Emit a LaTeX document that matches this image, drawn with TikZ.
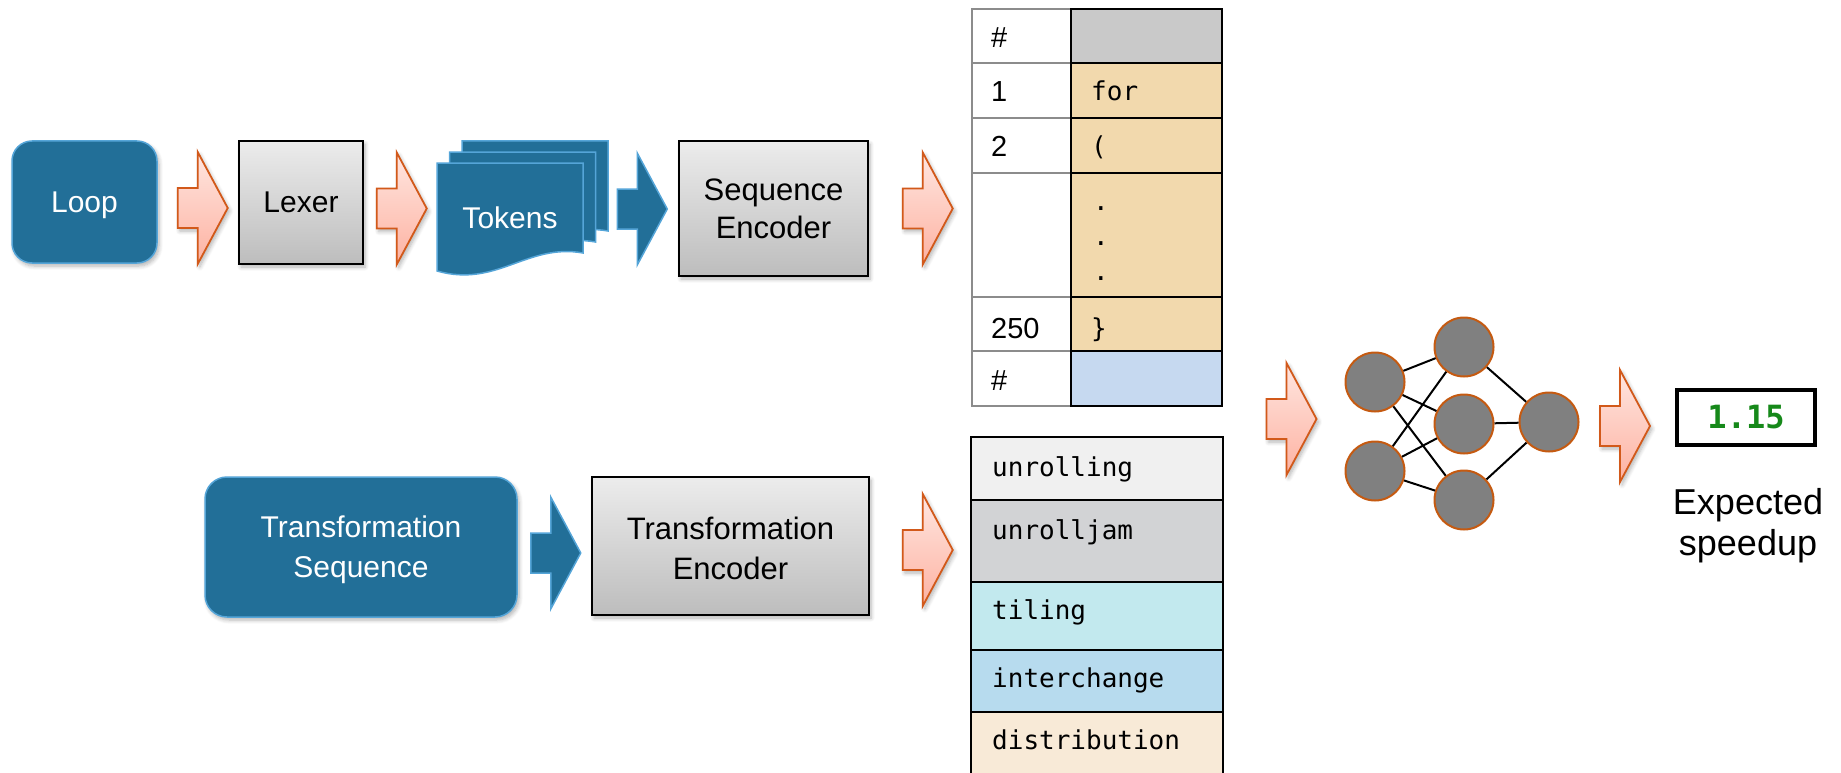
\documentclass[tikz,border=0pt]{standalone}
\usepackage{fontspec}
\setmainfont{Liberation Sans}
\newfontfamily\codefont{DejaVu Sans Mono}
\usetikzlibrary{calc,shadows.blur}

\definecolor{tealblue}{HTML}{226F98}
\definecolor{tealedge}{HTML}{55A5D8}
\definecolor{boxtop}{HTML}{ECECEC}
\definecolor{boxbot}{HTML}{BDBDBD}
\definecolor{pinktop}{HTML}{FFE6E0}
\definecolor{pinkbot}{HTML}{FDB2A2}
\definecolor{pinkedge}{HTML}{D2591A}
\definecolor{neurongray}{HTML}{808080}
\definecolor{neuronedge}{HTML}{C55A11}
\definecolor{cellgray}{HTML}{8C8C8C}
\definecolor{hdrgray}{HTML}{C9C9C9}
\definecolor{tokentan}{HTML}{F2D9AD}
\definecolor{endblue}{HTML}{C6D9F0}
\definecolor{trA}{HTML}{F0F0F0}
\definecolor{trB}{HTML}{D2D3D5}
\definecolor{trC}{HTML}{C2E9EE}
\definecolor{trD}{HTML}{B7DBEE}
\definecolor{trE}{HTML}{F8EAD7}
\definecolor{speedgreen}{HTML}{16891A}

\tikzset{
  softshadow/.style={blur shadow={shadow xshift=2pt, shadow yshift=-3pt,
      shadow blur steps=6, shadow blur radius=4pt, shadow opacity=30}},
  bluebox/.style={draw=tealedge, line width=1.5pt, fill=tealblue, text=white,
      rounded corners=20pt, align=center, inner sep=0pt, softshadow,
      font=\fontsize{30}{37}\selectfont},
  graybox/.style={draw=black, line width=1.5pt, top color=boxtop, bottom color=boxbot,
      align=center, inner sep=0pt, softshadow, font=\fontsize{31}{38}\selectfont},
  boxtext/.style={align=center, inner sep=0pt, font=\fontsize{31}{38}\selectfont},
  numcell/.style={draw=cellgray, line width=1.5pt, fill=white, minimum width=99,
      minimum height=#1, anchor=north west, inner sep=0pt, outer sep=0pt},
  codecell/.style={draw=black, line width=1.5pt, minimum width=151,
      minimum height=#1, anchor=north west, inner sep=0pt, outer sep=0pt},
  trcell/.style={draw=black, line width=1.5pt, minimum width=252,
      minimum height=#1, anchor=north west, inner sep=0pt, outer sep=0pt},
  numtext/.style={anchor=mid west, inner sep=0pt, font=\fontsize{29}{34}\selectfont},
  codetext/.style={anchor=mid west, inner sep=0pt, font=\codefont\fontsize{26}{31}\selectfont},
  neuron/.style={circle, draw=neuronedge, line width=2pt, fill=neurongray,
      minimum size=59, inner sep=0pt},
  synapse/.style={draw=black, line width=2pt},
  pics/pinkarrow/.style={code={
      \path[top color=pinktop, bottom color=pinkbot, draw=pinkedge, line width=1.8pt,
            softshadow]
        (0,-20) -- (20,-20) -- (20,-56) -- (50,0) -- (20,56) -- (20,20) -- (0,20) -- cycle;}},
  pics/bluearrow/.style={code={
      \path[fill=tealblue, draw=tealedge, line width=1.5pt]
        (0,-20) -- (20,-20) -- (20,-56) -- (50,0) -- (20,56) -- (20,20) -- (0,20) -- cycle;}},
  pics/tokensheet/.style={code={
      \path[fill=tealblue, draw=tealedge, line width=1.5pt]
        (0,0) -- (146,0) -- (146,90) .. controls (90,80) and (60,125) .. (0,108) -- cycle;}}
}

\begin{document}
\begin{tikzpicture}[x=1pt, y=-1pt]
\useasboundingbox (0,0) rectangle (1841,773);

% ---------- top pipeline ----------
\node[bluebox, minimum width=145, minimum height=122, text depth=0pt] (loop) at (84.5,202) {Loop};
\node[graybox, minimum width=124, minimum height=123, font=\fontsize{30}{37}\selectfont]
  (lexer) at (301,202.5) {Lexer};

% stacked token sheets
\pic at (462,141) {tokensheet};
\pic at (449.5,152) {tokensheet};
\pic at (437,163) {tokensheet};
\node[text=white, font=\fontsize{30}{36}\selectfont, inner sep=0pt] (tokens) at (510,218) {Tokens};

\node[graybox, minimum width=189, minimum height=135] (seqenc) at (773.5,208.5)
  {Sequence\\Encoder};

\pic at ($(loop.east)+(20,6)$) {pinkarrow};
\pic at ($(lexer.east)+(13,6)$) {pinkarrow};
\pic at ($(seqenc.west)+(-61,0.5)$) {bluearrow};
\pic at ($(seqenc.east)+(34,0)$) {pinkarrow};

% ---------- token table ----------
\node[numcell=54] (n0) at (972,9) {};
\node[numcell=55] (n1) at (972,63) {};
\node[numcell=55] (n2) at (972,118) {};
\node[numcell=124] (n3) at (972,173) {};
\node[numcell=54] (n4) at (972,297) {};
\node[numcell=55] (n5) at (972,351) {};
\node[codecell=54, fill=hdrgray] (c0) at (1071,9) {};
\node[codecell=55, fill=tokentan] (c1) at (1071,63) {};
\node[codecell=55, fill=tokentan] (c2) at (1071,118) {};
\node[codecell=124, fill=tokentan] (c3) at (1071,173) {};
\node[codecell=54, fill=tokentan] (c4) at (1071,297) {};
\node[codecell=55, fill=endblue] (c5) at (1071,351) {};

\node[numtext] (t0) at ($(n0.west)+(19,9)$) {\#};
\node[numtext] (t1) at ($(n1.west)+(19,8)$) {1};
\node[numtext] (t2) at ($(n2.west)+(19,8)$) {2};
\node[numtext] (t4) at ($(n4.west)+(19,12)$) {250};
\node[numtext] (t5) at ($(n5.west)+(19,9)$) {\#};
\node[codetext] (k1) at ($(c1.west)+(20,7)$) {for};
\node[codetext] (k2) at ($(c2.west)+(20,7)$) {(};
\node[codetext] (dotA) at ($(c3.north west)+(22,35)$) {.};
\node[codetext] (dotB) at ($(c3.north west)+(22,70)$) {.};
\node[codetext] (dotC) at ($(c3.north west)+(22,105)$) {.};
\node[codetext] (k4) at ($(c4.west)+(20,11)$) {\}};

% ---------- transformation pipeline ----------
\node[bluebox, rounded corners=22pt, minimum width=312, minimum height=140] (tseq)
  at (361,547) {};
\node[boxtext, text=white, font=\fontsize{30}{37}\selectfont] (tseqlbl)
  at ($(tseq.center)+(0,3)$) {Transformation\\[3pt]Sequence};
\node[graybox, minimum width=277, minimum height=138] (tenc) at (730.5,546) {};
\node[boxtext] (tenclbl) at ($(tenc.center)+(0,2)$) {Transformation\\[2pt]Encoder};
\pic at ($(tseq.east)+(13,6)$) {bluearrow};
\pic at ($(tenc.east)+(33,4)$) {pinkarrow};

% ---------- transformation table ----------
\node[trcell=63, fill=trA] (r1) at (971,437) {};
\node[trcell=82, fill=trB] (r2) at (971,500) {};
\node[trcell=68, fill=trC] (r3) at (971,582) {};
\node[trcell=62, fill=trD] (r4) at (971,650) {};
\node[trcell=90, fill=trE] (r5) at (971,712) {};
\node[codetext] (s1) at ($(r1.north west)+(21,37)$) {unrolling};
\node[codetext] (s2) at ($(r2.north west)+(21,37)$) {unrolljam};
\node[codetext] (s3) at ($(r3.north west)+(21,35)$) {tiling};
\node[codetext] (s4) at ($(r4.north west)+(21,35)$) {interchange};
\node[codetext] (s5) at ($(r5.north west)+(21,35)$) {distribution};

% ---------- predictor network ----------
\node[neuron] (i1) at (1375,382) {};
\node[neuron] (i2) at (1375,471) {};
\node[neuron] (h1) at (1464,347) {};
\node[neuron] (h2) at (1464,424) {};
\node[neuron] (h3) at (1464,500) {};
\node[neuron] (o1) at (1549,422) {};
\foreach \a in {i1,i2}
  \foreach \b in {h1,h2,h3}
    \draw[synapse] (\a) -- (\b);
\foreach \b in {h1,h2,h3}
  \draw[synapse] (\b) -- (o1);

\pic at ($(i1.west)+(-78,37)$) {pinkarrow};

% ---------- result ----------
\node[draw=black, line width=4pt, minimum width=138, minimum height=55, inner sep=0pt,
      text=speedgreen, font=\codefont\bfseries\fontsize{32}{36}\selectfont]
  (speed) at (1746,417.5) {1.15};
\pic at ($(speed.west)+(-75,8.5)$) {pinkarrow};
\node[anchor=north, align=center, inner sep=0pt, font=\fontsize{36}{41}\selectfont]
  (speedlbl) at (1748,488) {Expected\\speedup};
\end{tikzpicture}
\end{document}
